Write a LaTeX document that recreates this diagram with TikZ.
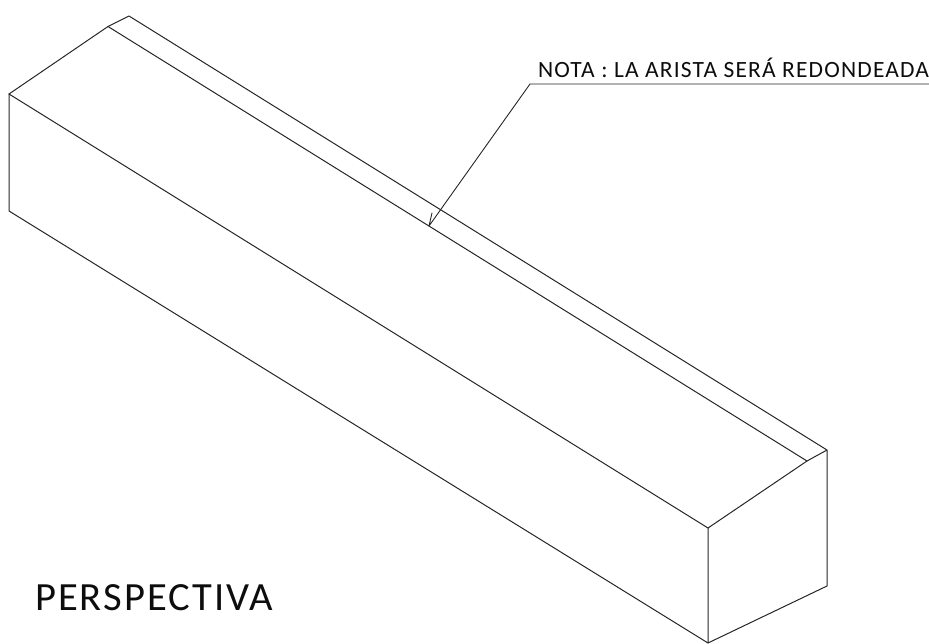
\documentclass[tikz,border=0pt]{standalone}
\usepackage{fontspec}
\setmainfont{Carlito}[LetterSpace=5]
\usepackage{graphicx}
\tikzset{
  edgeline/.style={line width=1pt,draw=black!85,line cap=round,line join=round},
  leaderline/.style={line width=0.9pt,draw=black!85,line cap=round,line join=round},
  lbl/.style={inner sep=0pt,outer sep=0pt,anchor=base west,text=black!95}
}
\begin{document}
\begin{tikzpicture}[x=1pt,y=-1pt]
\useasboundingbox (0,0) rectangle (929,643);
\clip (0,0) rectangle (929,643);
\coordinate (A) at (9,94);
\coordinate (B) at (108,26.5);
\coordinate (C) at (129,16);
\coordinate (D) at (9,211);
\coordinate (E) at (708,528);
\coordinate (F) at (807,461);
\coordinate (G) at (827,450);
\coordinate (H) at (827,586);
\coordinate (I) at (708,643);
\coordinate (tip) at (429,226);
\coordinate (tick) at (432,213);
\coordinate (elbow) at (530,84);
\coordinate (rend) at (929,84);
\draw[edgeline] (A) -- (B) -- (C) -- (G) -- (H) -- (I) -- (E) -- (F) -- (G);
\draw[edgeline] (B) -- (F);
\draw[edgeline] (A) -- (E);
\draw[edgeline] (A) -- (D) -- (I);
\draw[leaderline] (rend) -- (elbow) -- (tip) -- (tick);
\node[lbl] (nota) at (538,77) {\resizebox{391pt}{\height}{\fontsize{23.3pt}{26pt}\selectfont NOTA : LA ARISTA SERÁ REDONDEADA}};
\node[lbl] (persp) at (35,610) {\resizebox{238pt}{\height}{\fontsize{40pt}{44pt}\selectfont PERSPECTIVA}};
\end{tikzpicture}
\end{document}
